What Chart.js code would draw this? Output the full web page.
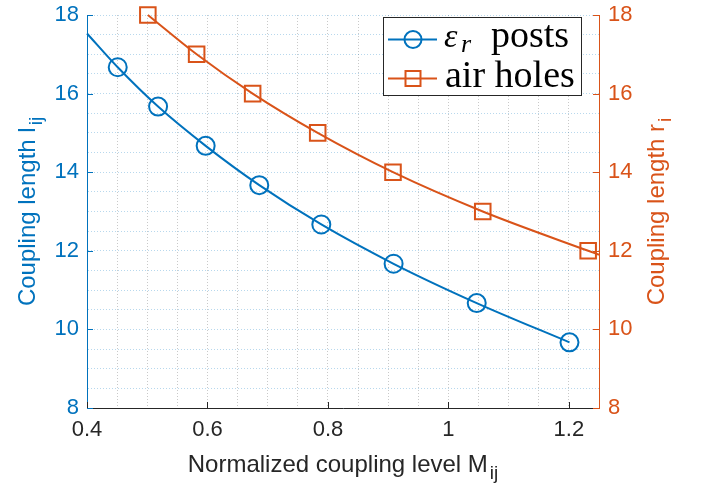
<!DOCTYPE html>
<html>
<head>
<meta charset="utf-8">
<script src="https://cdn.jsdelivr.net/npm/chart.js@4"></script>
<style>
  html, body { margin: 0; padding: 0; background: #fff; }
  canvas { display: block; }
</style>
</head>
<body>
<canvas id="coupling" width="702" height="489"></canvas>
<script>
// eps_r posts (left axis); first point only carries the curve to the axis
const postsM = [0.4, 0.451, 0.518, 0.597, 0.686, 0.789, 0.909, 1.047, 1.201];
const postsL = [17.53, 16.67, 15.67, 14.67, 13.67, 12.67, 11.67, 10.67, 9.67];
const postsMarker = [0, 9, 9, 9, 9, 9, 9, 9, 9];

// air holes (right axis); last point only carries the curve to the axis
const holesM = [0.501, 0.582, 0.675, 0.783, 0.908, 1.057, 1.232, 1.25];
const holesR = [18, 17, 16, 15, 14, 13, 12, 11.9];
const holesMarker = [11, 11, 11, 11, 11, 11, 11, 0];

const xGrid = [0.4, 0.45, 0.5, 0.55, 0.6, 0.65, 0.7, 0.75, 0.8, 0.85, 0.9, 0.95, 1, 1.05, 1.1, 1.15, 1.2, 1.25];
const xMajor = [0.4, 0.6, 0.8, 1, 1.2];
const xLabels = ['0.4', '0.6', '0.8', '1', '1.2'];
const yGrid = [8, 8.5, 9, 9.5, 10, 10.5, 11, 11.5, 12, 12.5, 13, 13.5, 14, 14.5, 15, 15.5, 16, 16.5, 17, 17.5, 18];
const yMajor = [8, 10, 12, 14, 16, 18];
const yLabels = ['8', '10', '12', '14', '16', '18'];

const blue = '#0072BD';
const orange = '#D95319';
const dark = '#262626';
const sans = '"Liberation Sans", Arial, sans-serif';
const serif = '"Liberation Serif", "Times New Roman", serif';

const labelFor = (majors, labels) => (v) => {
  const i = majors.findIndex(m => Math.abs(m - v) < 1e-6);
  return i < 0 ? '' : labels[i];
};

function drawTitle(ctx, x, y, angle, main, sub, color) {
  ctx.save();
  ctx.translate(x, y);
  ctx.rotate(angle);
  ctx.fillStyle = color;
  ctx.textBaseline = 'alphabetic';
  ctx.textAlign = 'left';
  ctx.font = '24px ' + sans;
  const w1 = ctx.measureText(main).width;
  ctx.font = '19px ' + sans;
  const w2 = ctx.measureText(sub).width;
  const x0 = -(w1 + 2 + w2) / 2;
  ctx.font = '24px ' + sans;
  ctx.fillText(main, x0, 0);
  ctx.font = '19px ' + sans;
  ctx.fillText(sub, x0 + w1 + 2, 7);
  ctx.restore();
}

const decorations = {
  id: 'decorations',
  afterDraw(chart) {
    const ctx = chart.ctx;
    const {x, y, y2} = chart.scales;
    const area = chart.chartArea;

    // inward tick marks
    ctx.save();
    ctx.lineWidth = 1;
    ctx.strokeStyle = dark;
    xMajor.forEach(v => {
      const px = Math.round(x.getPixelForValue(v)) + 0.5;
      ctx.beginPath(); ctx.moveTo(px, area.bottom); ctx.lineTo(px, area.bottom - 6); ctx.stroke();
    });
    ctx.strokeStyle = blue;
    yMajor.forEach(v => {
      const py = Math.round(y.getPixelForValue(v)) + 0.5;
      ctx.beginPath(); ctx.moveTo(area.left, py); ctx.lineTo(area.left + 6, py); ctx.stroke();
    });
    ctx.strokeStyle = orange;
    yMajor.forEach(v => {
      const py = Math.round(y2.getPixelForValue(v)) + 0.5;
      ctx.beginPath(); ctx.moveTo(area.right, py); ctx.lineTo(area.right - 6, py); ctx.stroke();
    });
    ctx.restore();

    // axis titles
    const midY = (area.top + area.bottom) / 2;
    drawTitle(ctx, 35, midY, -Math.PI / 2, 'Coupling length l', 'ij', blue);
    drawTitle(ctx, 664, midY, -Math.PI / 2, 'Coupling length r', 'i', orange);
    drawTitle(ctx, (area.left + area.right) / 2, 472, 0, 'Normalized coupling level M', 'ij', dark);

    // legend
    ctx.save();
    ctx.fillStyle = '#fff';
    ctx.fillRect(383.5, 17.5, 198, 78);
    ctx.strokeStyle = dark;
    ctx.lineWidth = 1;
    ctx.strokeRect(383.5, 17.5, 198, 78);

    ctx.lineWidth = 2;
    ctx.strokeStyle = blue;
    ctx.beginPath(); ctx.moveTo(388, 39.5); ctx.lineTo(437, 39.5); ctx.stroke();
    ctx.beginPath(); ctx.arc(413, 39.5, 8.5, 0, Math.PI * 2); ctx.stroke();

    ctx.strokeStyle = orange;
    ctx.beginPath(); ctx.moveTo(388, 78.5); ctx.lineTo(437, 78.5); ctx.stroke();
    ctx.strokeRect(405.5, 71, 15, 15);

    ctx.fillStyle = '#000';
    ctx.textBaseline = 'alphabetic';
    ctx.textAlign = 'left';
    ctx.font = 'italic 34px ' + serif;
    ctx.fillText('ε', 444, 46.5);
    ctx.font = 'italic 26px ' + serif;
    ctx.fillText('r', 461, 52);
    ctx.font = '38px ' + serif;
    ctx.fillText('posts', 491, 46.5);
    ctx.fillText('air holes', 445, 86.5);
    ctx.restore();
  }
};

const data = {
  datasets: [{
    label: 'posts',
    data: postsM.map((m, i) => ({x: m, y: postsL[i]})),
    yAxisID: 'y',
    showLine: true,
    borderColor: blue,
    borderWidth: 2,
    cubicInterpolationMode: 'monotone',
    pointStyle: 'circle',
    pointRadius: postsMarker,
    pointBorderWidth: 2,
    pointBorderColor: blue,
    pointBackgroundColor: 'rgba(0,0,0,0)',
    clip: false
  }, {
    label: 'air holes',
    data: holesM.map((m, i) => ({x: m, y: holesR[i]})),
    yAxisID: 'y2',
    showLine: true,
    borderColor: orange,
    borderWidth: 2,
    cubicInterpolationMode: 'monotone',
    pointStyle: 'rect',
    pointRadius: holesMarker,
    pointBorderWidth: 2,
    pointBorderColor: orange,
    pointBackgroundColor: 'rgba(0,0,0,0)',
    clip: false
  }]
};

const noPad = (s) => { s.paddingTop = 0; s.paddingBottom = 0; s.paddingLeft = 0; s.paddingRight = 0; };

const config = {
  type: 'scatter',
  data: data,
  options: {
    responsive: false,
    animation: false,
    events: [],
    layout: { padding: { top: 15, left: 0, right: 0, bottom: 0 } },
    plugins: {
      legend: { display: false },
      tooltip: { enabled: false }
    },
    scales: {
      x: {
        type: 'linear',
        min: 0.4,
        max: 1.25,
        afterBuildTicks: (s) => { s.ticks = xGrid.map(v => ({value: v})); },
        afterFit: (s) => { s.height = 81; noPad(s); },
        grid: { color: 'rgba(38,38,38,0.25)', drawTicks: false, lineWidth: 1 },
        border: { display: true, color: dark, width: 1, dash: [1, 2] },
        ticks: {
          autoSkip: false, maxRotation: 0, minRotation: 0, padding: 9,
          color: dark, font: { family: sans, size: 22 },
          callback: labelFor(xMajor, xLabels)
        }
      },
      y: {
        type: 'linear',
        position: 'left',
        min: 8,
        max: 18,
        afterBuildTicks: (s) => { s.ticks = yGrid.map(v => ({value: v})); },
        afterFit: (s) => { s.width = 87; noPad(s); },
        grid: { color: 'rgba(0,114,189,0.28)', drawTicks: false, lineWidth: 1 },
        border: { display: true, color: blue, width: 1, dash: [1, 2] },
        ticks: {
          autoSkip: false, padding: 8,
          color: blue, font: { family: sans, size: 22 },
          callback: labelFor(yMajor, yLabels)
        }
      },
      y2: {
        type: 'linear',
        position: 'right',
        min: 8,
        max: 18,
        afterBuildTicks: (s) => { s.ticks = yGrid.map(v => ({value: v})); },
        afterFit: (s) => { s.width = 103; noPad(s); },
        grid: { display: false, drawTicks: false },
        border: { display: true, color: orange, width: 1 },
        ticks: {
          autoSkip: false, padding: 9,
          color: orange, font: { family: sans, size: 22 },
          callback: labelFor(yMajor, yLabels)
        }
      }
    }
  },
  plugins: [decorations]
};

const couplingChart = new Chart(document.getElementById('coupling'), config);
</script>
</body>
</html>
